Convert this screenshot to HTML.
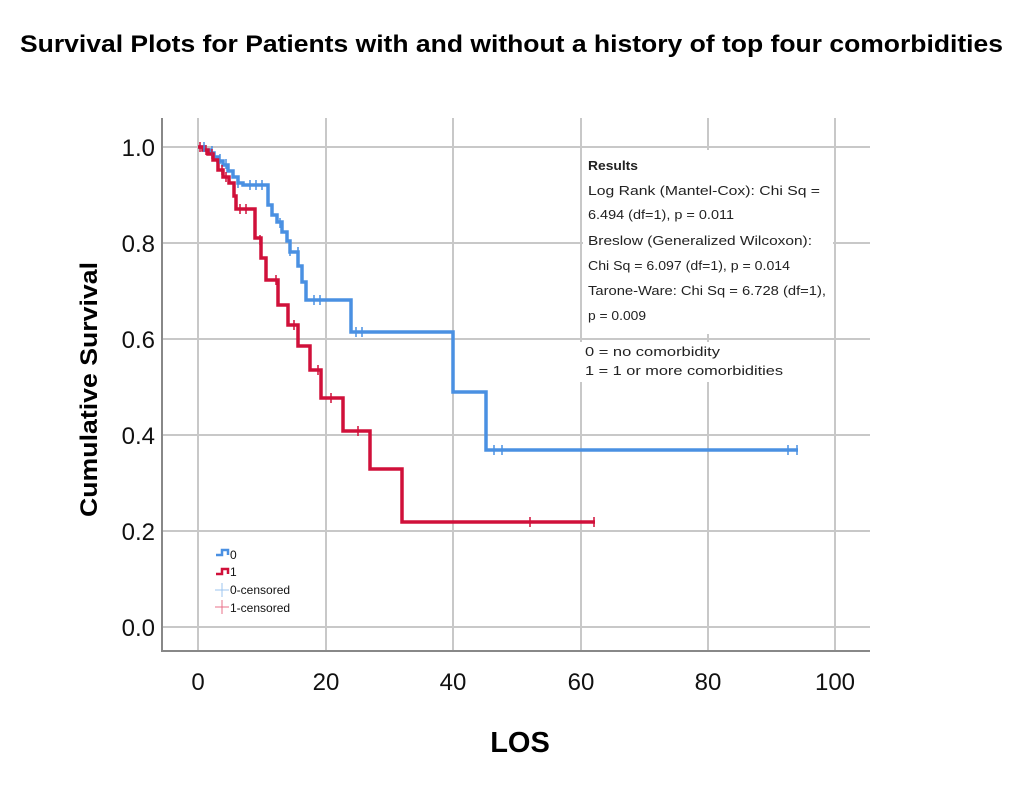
<!DOCTYPE html>
<html><head><meta charset="utf-8"><style>
html,body{margin:0;padding:0;background:#fff;}
svg{display:block;}
</style></head><body>
<svg width="1023" height="787" viewBox="0 0 1023 787" xmlns="http://www.w3.org/2000/svg">
<text x="20" y="52" textLength="983" lengthAdjust="spacingAndGlyphs" font-family="Liberation Sans, sans-serif" font-weight="bold" font-size="24">Survival Plots for Patients with and without a history of top four comorbidities</text>
<!-- grid -->
<g stroke="#c8c8c8" stroke-width="2">
<line x1="162" y1="147" x2="870" y2="147"/>
<line x1="162" y1="243" x2="870" y2="243"/>
<line x1="162" y1="339" x2="870" y2="339"/>
<line x1="162" y1="435" x2="870" y2="435"/>
<line x1="162" y1="531" x2="870" y2="531"/>
<line x1="162" y1="627" x2="870" y2="627"/>
<line x1="198" y1="118" x2="198" y2="650"/>
<line x1="326" y1="118" x2="326" y2="650"/>
<line x1="453" y1="118" x2="453" y2="650"/>
<line x1="581" y1="118" x2="581" y2="650"/>
<line x1="708" y1="118" x2="708" y2="650"/>
<line x1="835" y1="118" x2="835" y2="650"/>
</g>
<rect x="583" y="150" width="250" height="184" fill="#fff"/>
<rect x="578" y="342" width="230" height="40" fill="#fff"/>
<g stroke="#888" stroke-width="2"><line x1="162" y1="118" x2="162" y2="651"/><line x1="161" y1="651" x2="870" y2="651"/></g>
<g font-family="Liberation Sans, sans-serif" font-size="24" fill="#111" text-anchor="end">
<text x="155" y="156">1.0</text><text x="155" y="252">0.8</text><text x="155" y="348">0.6</text>
<text x="155" y="444">0.4</text><text x="155" y="540">0.2</text><text x="155" y="636">0.0</text>
</g>
<g font-family="Liberation Sans, sans-serif" font-size="24" fill="#111" text-anchor="middle">
<text x="198" y="690">0</text><text x="326" y="690">20</text><text x="453" y="690">40</text>
<text x="581" y="690">60</text><text x="708" y="690">80</text><text x="835" y="690">100</text>
</g>
<text x="520" y="752" text-anchor="middle" font-family="Liberation Sans, sans-serif" font-weight="bold" font-size="29">LOS</text>
<text transform="translate(97,517) rotate(-90)" textLength="255" lengthAdjust="spacingAndGlyphs" font-family="Liberation Sans, sans-serif" font-weight="bold" font-size="24">Cumulative Survival</text>
<!-- blue -->
<polyline fill="none" stroke="#4a90e2" stroke-width="3.5" points="198,147 204,147 204,150 210,150 210,153 214,153 214,157 218,157 218,161 223,161 223,165 228,165 228,171 233,171 233,177 238,177 238,183 243,183 243,185 268,185 268,205 272,205 272,215 277,215 277,222 282,222 282,232 287,232 287,241 290,241 290,252 298,252 298,266 302,266 302,282 306,282 306,300 351,300 351,332 453,332 453,392 486,392 486,450 798,450"/>
<!-- red -->
<polyline fill="none" stroke="#d0103a" stroke-width="3.5" points="198,147 203,147 203,150 208,150 208,154 213,154 213,160 218,160 218,170 223,170 223,177 229,177 229,183 234,183 234,196 236,196 236,209 255,209 255,238 261,238 261,258 266,258 266,280 278,280 278,305 288,305 288,325 298,325 298,346 310,346 310,370 321,370 321,398 343,398 343,431 370,431 370,469 402,469 402,522 595,522"/>
<g stroke="#4a90e2" stroke-width="1.5">
<path d="M204,142v10M212,146v10M220,154v10M226,159v10M238,178v10M250,180v10M256,180v10M262,180v10M272,205v10M280,218v10M290,246v10M298,247v10M314,295v10M320,295v10M356,327v10M362,327v10M494,445v10M502,445v10M788,445v10M797,445v10"/>
</g>
<g stroke="#d0103a" stroke-width="1.5">
<path d="M200,142v10M206,145v10M212,149v10M222,165v10M226,172v10M240,204v10M246,204v10M260,235v10M276,275v10M294,320v10M318,365v10M331,393v10M358,426v10M530,517v10M594,517v10"/>
</g>
<!-- legend -->
<g font-family="Liberation Sans, sans-serif" font-size="12" fill="#111">
<path d="M216,555h6v-5h6v5" fill="none" stroke="#4a90e2" stroke-width="2.5"/>
<text x="230" y="559">0</text>
<path d="M216,574h6v-5h6v5" fill="none" stroke="#d0103a" stroke-width="2.5"/>
<text x="230" y="576">1</text>
<path d="M215,590h14M222,583v14" stroke="#9cc4ef" stroke-width="1"/>
<text x="230" y="594">0-censored</text>
<path d="M215,607h14M222,600v14" stroke="#e8708a" stroke-width="1"/>
<text x="230" y="612">1-censored</text>
</g>
<g font-family="Liberation Sans, sans-serif" font-size="13" fill="#222" lengthAdjust="spacingAndGlyphs">
<text x="588" y="170" font-weight="bold" textLength="50" lengthAdjust="spacingAndGlyphs">Results</text>
<text x="588" y="195" textLength="232" lengthAdjust="spacingAndGlyphs">Log Rank (Mantel-Cox): Chi Sq =</text>
<text x="588" y="219" textLength="146" lengthAdjust="spacingAndGlyphs">6.494 (df=1), p = 0.011</text>
<text x="588" y="245" textLength="224" lengthAdjust="spacingAndGlyphs">Breslow (Generalized Wilcoxon):</text>
<text x="588" y="270" textLength="202" lengthAdjust="spacingAndGlyphs">Chi Sq = 6.097 (df=1), p = 0.014</text>
<text x="588" y="295" textLength="238" lengthAdjust="spacingAndGlyphs">Tarone-Ware: Chi Sq = 6.728 (df=1),</text>
<text x="588" y="320" textLength="58" lengthAdjust="spacingAndGlyphs">p = 0.009</text>
<text x="585" y="356" textLength="135" lengthAdjust="spacingAndGlyphs">0 = no comorbidity</text>
<text x="585" y="375" textLength="198" lengthAdjust="spacingAndGlyphs">1 = 1 or more comorbidities</text>
</g>
</svg>
</body></html>
